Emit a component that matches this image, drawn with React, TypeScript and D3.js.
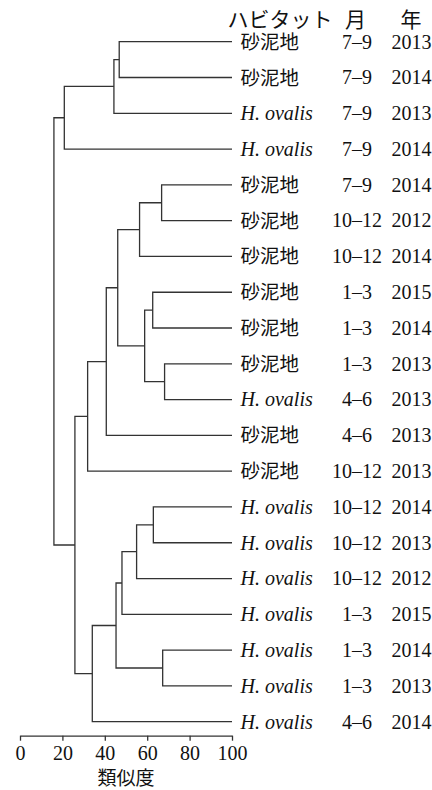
import React, { useEffect, useRef } from 'react';
import * as d3 from 'd3';

// leaves, top to bottom
const habitats = [
  '砂泥地', '砂泥地', 'H. ovalis', 'H. ovalis', '砂泥地', '砂泥地', '砂泥地',
  '砂泥地', '砂泥地', '砂泥地', 'H. ovalis', '砂泥地', '砂泥地',
  'H. ovalis', 'H. ovalis', 'H. ovalis', 'H. ovalis', 'H. ovalis', 'H. ovalis', 'H. ovalis',
];
const months = [
  '7–9', '7–9', '7–9', '7–9', '7–9', '10–12', '10–12',
  '1–3', '1–3', '1–3', '4–6', '4–6', '10–12',
  '10–12', '10–12', '10–12', '1–3', '1–3', '1–3', '4–6',
];
const years = [
  '2013', '2014', '2013', '2014', '2014', '2012', '2014',
  '2015', '2014', '2013', '2013', '2013', '2013',
  '2014', '2013', '2012', '2015', '2014', '2013', '2014',
];

// linkage: [left, right, similarity]; leaves are 0..19, new nodes 20, 21, ...
const merges: [number, number, number][] = [
  [0, 1, 46.8],
  [20, 2, 44.3],
  [21, 3, 20.9],
  [4, 5, 66.8],
  [23, 6, 56.4],
  [7, 8, 62.6],
  [9, 10, 68.2],
  [25, 26, 58.8],
  [24, 27, 46.1],
  [28, 11, 40.7],
  [29, 12, 31.9],
  [13, 14, 62.9],
  [31, 15, 55.0],
  [32, 16, 48.1],
  [17, 18, 67.3],
  [33, 34, 45.3],
  [35, 19, 34.1],
  [30, 36, 25.9],
  [22, 37, 16.0],
];

const xTicks = [0, 20, 40, 60, 80, 100];

const SERIF = "'Liberation Serif', 'Times New Roman', Times, serif";
const CJK = "'Noto Sans CJK JP', 'Noto Sans', sans-serif";

const Dendrogram = () => {
  const ref = useRef<SVGSVGElement>(null);

  useEffect(() => {
    const svg = d3.select(ref.current);
    svg.selectAll('*').remove();

    const x = d3.scaleLinear().domain([0, 100]).range([20, 232]);
    const y = d3.scaleLinear().domain([0, habitats.length - 1]).range([41.7, 721.7]);

    // node positions: leaves at similarity 100, merges at their similarity
    const pos: { x: number; y: number }[] = habitats.map((_, i) => ({ x: x(100), y: y(i) }));
    merges.forEach(([a, b, s]) => {
      pos.push({ x: x(s), y: (pos[a].y + pos[b].y) / 2 });
    });

    const links = svg.append('g')
      .attr('fill', 'none')
      .attr('stroke', '#333')
      .attr('stroke-width', 1.3);

    merges.forEach(([a, b], k) => {
      const p = pos[habitats.length + k];
      const path = d3.path();
      path.moveTo(pos[a].x, pos[a].y);
      path.lineTo(p.x, pos[a].y);
      path.lineTo(p.x, pos[b].y);
      path.lineTo(pos[b].x, pos[b].y);
      links.append('path').attr('d', path.toString());
    });

    // leaf labels
    const labels = svg.append('g').attr('fill', '#111');
    habitats.forEach((h, i) => {
      const isSpecies = h.startsWith('H.');
      labels.append('text')
        .attr('x', 240.5)
        .attr('y', y(i))
        .attr('dy', isSpecies ? '0.34em' : '0.36em')
        .style('font-family', isSpecies ? SERIF : CJK)
        .style('font-style', isSpecies ? 'italic' : 'normal')
        .style('font-size', isSpecies ? '20px' : '19.5px')
        .text(h);
      labels.append('text')
        .attr('x', 357)
        .attr('y', y(i))
        .attr('dy', '0.34em')
        .attr('text-anchor', 'middle')
        .style('font-family', SERIF)
        .style('font-size', '20px')
        .text(months[i]);
      labels.append('text')
        .attr('x', 391.5)
        .attr('y', y(i))
        .attr('dy', '0.34em')
        .style('font-family', SERIF)
        .style('font-size', '20px')
        .text(years[i]);
    });

    // header
    const header = svg.append('g').style('font-family', CJK).style('font-size', '21px').attr('fill', '#111');
    header.append('text').attr('x', 227.5).attr('y', 26.5).text('ハビタット');
    header.append('text').attr('x', 355.5).attr('y', 26.5).attr('text-anchor', 'middle').text('月');
    header.append('text').attr('x', 411).attr('y', 26.5).attr('text-anchor', 'middle').text('年');

    // axis
    const axis = svg.append('g')
      .attr('transform', 'translate(0,735.7)')
      .call(d3.axisBottom(x).tickValues(xTicks).tickSize(5).tickPadding(4).tickSizeOuter(0));
    axis.select('.domain').attr('stroke', '#333').attr('stroke-width', 1.3);
    axis.selectAll('.tick line').attr('stroke', '#333').attr('stroke-width', 1.3);
    axis.selectAll('.tick text')
      .attr('dy', null)
      .attr('y', 24)
      .style('font-family', SERIF)
      .style('font-size', '20px')
      .attr('fill', '#111');

    svg.append('text')
      .attr('x', x(50))
      .attr('y', 785)
      .attr('text-anchor', 'middle')
      .style('font-family', CJK)
      .style('font-size', '19px')
      .attr('fill', '#111')
      .text('類似度');
  }, []);

  return (
    <svg
      ref={ref}
      width={432}
      height={790}
      style={{ position: 'absolute', left: 0, top: 0, background: '#fff' }}
    ></svg>
  );
};

export default function App() {
  return <Dendrogram />;
}
